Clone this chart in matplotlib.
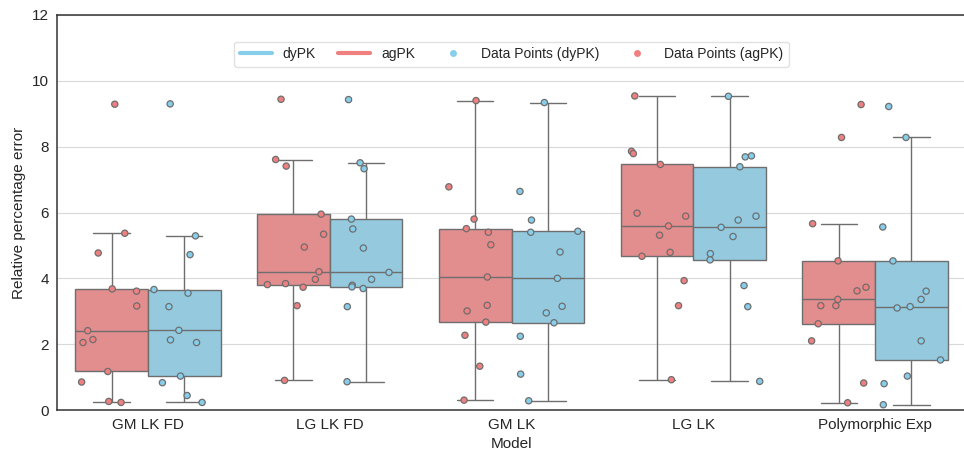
import matplotlib
matplotlib.use('Agg')
import matplotlib.pyplot as plt
from matplotlib.lines import Line2D
import seaborn as sns
import pandas as pd
import numpy as np

# ── data ──
models = ['GM LK FD', 'LG LK FD', 'GM LK', 'LG LK', 'Polymorphic Exp']

agpk = {
    'GM LK FD': [9.29, 5.37, 4.77, 3.68, 3.61, 3.16, 2.41, 2.14, 2.05, 1.17, 0.85, 0.26, 0.23],
    'LG LK FD': [9.44, 7.61, 7.41, 5.95, 5.34, 4.95, 4.20, 3.97, 3.84, 3.81, 3.73, 3.17, 0.90],
    'GM LK': [9.40, 6.78, 5.80, 5.51, 5.40, 5.02, 4.04, 3.18, 3.01, 2.67, 2.27, 1.33, 0.30],
    'LG LK': [9.54, 7.86, 7.79, 7.46, 5.98, 5.89, 5.59, 5.31, 4.79, 4.67, 3.93, 3.17, 0.92],
    'Polymorphic Exp': [9.28, 8.28, 5.66, 4.53, 3.73, 3.62, 3.36, 3.17, 3.17, 2.62, 2.10, 0.82, 0.22],
}
dypk = {
    'GM LK FD': [9.30, 5.29, 4.72, 3.66, 3.55, 3.14, 2.42, 2.13, 2.05, 1.03, 0.83, 0.44, 0.23],
    'LG LK FD': [9.43, 7.51, 7.33, 5.80, 5.50, 4.92, 4.18, 3.97, 3.79, 3.74, 3.69, 3.14, 0.86],
    'GM LK': [9.34, 6.64, 5.77, 5.43, 5.40, 4.80, 4.00, 3.15, 2.95, 2.65, 2.24, 1.09, 0.28],
    'LG LK': [9.53, 7.72, 7.69, 7.39, 5.89, 5.77, 5.55, 5.27, 4.75, 4.56, 3.78, 3.14, 0.87],
    'Polymorphic Exp': [9.22, 8.28, 5.56, 4.53, 3.61, 3.36, 3.14, 3.10, 2.10, 1.52, 1.03, 0.80, 0.16],
}

rows = []
for m in models:
    rows += [(m, 'agPK', v) for v in agpk[m]]
    rows += [(m, 'dyPK', v) for v in dypk[m]]
df = pd.DataFrame(rows, columns=['Model', 'Type', 'Error'])

palette = {'agPK': 'lightcoral', 'dyPK': 'skyblue'}
hue_order = ['agPK', 'dyPK']

sns.set_style('white')
plt.rcParams['font.family'] = ['Liberation Sans', 'DejaVu Sans']

fig = plt.figure(figsize=(9.64, 4.49), dpi=100)
ax = fig.add_axes([57/964, 39/449, 909/964, 395/449])

ax.yaxis.grid(True, color='#d9d9d9', lw=0.8)
ax.set_axisbelow(True)

sns.boxplot(data=df, x='Model', y='Error', hue='Type', order=models,
            hue_order=hue_order, palette=palette, showfliers=False,
            width=0.8, linecolor='#6e6e6e', linewidth=1, ax=ax, legend=False)
np.random.seed(3)
sns.stripplot(data=df, x='Model', y='Error', hue='Type', order=models,
              hue_order=hue_order, palette=palette, dodge=True, jitter=0.35,
              size=4.5, linewidth=0.9, edgecolor='#6e6e6e', ax=ax, legend=False)

ax.set_ylim(0, 12)
ax.set_yticks(range(0, 13, 2))
ax.tick_params(axis='both', labelsize=11, length=0, pad=6)
ax.set_xlabel('Model', fontsize=11, labelpad=3)
ax.set_ylabel('Relative percentage error', fontsize=11)
for s in ['left', 'top', 'bottom']:
    ax.spines[s].set_color('#333333')
    ax.spines[s].set_linewidth(1.1)
ax.spines['right'].set_visible(False)

handles = [
    Line2D([0], [0], color='skyblue', lw=3, label='dyPK'),
    Line2D([0], [0], color='lightcoral', lw=3, label='agPK'),
    Line2D([0], [0], marker='o', ls='none', markerfacecolor='skyblue',
           markeredgecolor='none', markersize=5, label='Data Points (dyPK)'),
    Line2D([0], [0], marker='o', ls='none', markerfacecolor='lightcoral',
           markeredgecolor='none', markersize=5, label='Data Points (agPK)'),
]
ax.legend(handles=handles, loc='upper center', bbox_to_anchor=(0.5, 0.95),
          ncol=4, fontsize=10, frameon=True, edgecolor='#d9d9d9',
          columnspacing=1.6, handlelength=2.3)

fig.savefig('out.png', dpi=100, facecolor='white')
